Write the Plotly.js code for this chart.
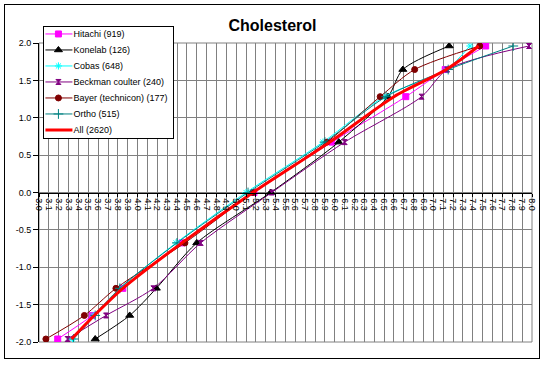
<!DOCTYPE html>
<html><head><meta charset="utf-8">
<script src="https://cdn.plot.ly/plotly-3.0.1.min.js"></script>
<style>
html,body{margin:0;padding:0;background:#fff;}
#chart{width:545px;height:366px;position:absolute;left:0;top:0;}
#frame{position:absolute;left:4px;top:4px;width:536px;height:355px;border:1px solid #000;box-sizing:border-box;pointer-events:none;}
</style>
</head><body>
<div id="chart"></div><div id="frame"></div>
<script>
// z-scores (percentiles 2.5,5,10,25,50,75,90,95,97.5)
const zScores = [-1.96, -1.645, -1.282, -0.674, 0, 0.674, 1.282, 1.645, 1.96];

const seriesNames = ["Hitachi (919)", "Konelab (126)", "Cobas (648)", "Beckman coulter (240)",
  "Bayer (technicon) (177)", "Ortho (515)", "All (2620)"];

const hitachi = [3.19, 3.54, 3.85, 4.45, 5.18, 5.97, 6.72, 7.12, 7.53];
const konelab = [3.57, 3.92, 4.19, 4.60, 5.35, 6.04, 6.54, 6.69, 7.16];
const cobas   = [3.34, 3.55, 3.82, 4.39, 5.10, 5.88, 6.50, 7.13, 7.37];
const beckman = [3.29, 3.68, 4.16, 4.64, 5.36, 6.10, 6.88, 7.14, 7.97];
const bayer   = [3.07, 3.46, 3.78, 4.48, 5.17, 5.92, 6.46, 6.81, 7.47];
const ortho   = [3.35, 3.57, 3.82, 4.40, 5.12, 5.90, 6.52, 7.15, 7.81];
const all     = [3.33, 3.56, 3.85, 4.45, 5.17, 5.95, 6.60, 7.13, 7.46];

const yTickVals = [-2, -1.5, -1, -0.5, 0, 0.5, 1, 1.5, 2];
const yTickText = ["-2.0", "-1.5", "-1.0", "-0.5", "0.0", "0.5", "1.0", "1.5", "2.0"];

const FONT = "Arial, 'Liberation Sans', sans-serif";

function tr(x, name, color, symbol, size, width) {
  const t = {
    x: x, y: zScores, name: name, type: 'scatter',
    mode: symbol ? 'lines+markers' : 'lines',
    line: {color: color, width: width || 1, shape: 'spline', smoothing: 0.8},
    hoverinfo: 'skip'
  };
  if (symbol) t.marker = {symbol: symbol, size: size, color: color, line: {color: color, width: 1}};
  return t;
}

const data = [
  tr(hitachi, seriesNames[0], '#FF00FF', 'square', 6),
  tr(konelab, seriesNames[1], '#000000', 'triangle-up', 7),
  tr(cobas,   seriesNames[2], '#00FFFF', 'asterisk-open', 6),
  tr(beckman, seriesNames[3], '#800080', 'hourglass', 5),
  tr(bayer,   seriesNames[4], '#800000', 'circle', 6),
  tr(ortho,   seriesNames[5], '#008080', 'cross-thin-open', 7),
  tr(all,     seriesNames[6], '#FF0000', null, 0, 3)
];

const layout = {
  width: 545, height: 366,
  margin: {l: 39, r: 13, t: 43, b: 24, pad: 0},
  paper_bgcolor: '#ffffff', plot_bgcolor: '#ffffff',
  font: {family: FONT, size: 9, color: '#000'},
  title: {text: 'Cholesterol', font: {family: FONT, size: 16, color: '#000', weight: 'bold'},
          x: 0.5, xref: 'container', y: 0.93, yref: 'container', yanchor: 'middle'},
  showlegend: true,
  legend: {x: 0.009, y: 1.057, xanchor: 'left', yanchor: 'top',
           bgcolor: '#fff', bordercolor: '#000', borderwidth: 1,
           font: {family: FONT, size: 9, color: '#000'}, itemwidth: 30, tracegroupgap: 0},
  xaxis: {
    range: [3, 8], tick0: 3, dtick: 0.1, tickformat: '.1f', tickangle: 90,
    anchor: 'free', position: 0.5,
    showgrid: true, gridcolor: '#808080', gridwidth: 1,
    showline: true, linecolor: '#000', linewidth: 1,
    ticks: 'outside', ticklen: 3, tickcolor: '#000',
    zeroline: false, automargin: false,
    tickfont: {family: FONT, size: 9, color: '#000'}
  },
  yaxis: {
    range: [-2, 2], tickvals: yTickVals, ticktext: yTickText,
    showgrid: true, gridcolor: '#808080', gridwidth: 1,
    showline: true, linecolor: '#000', linewidth: 1,
    ticks: 'outside', ticklen: 5, tickcolor: '#000',
    zeroline: false, automargin: false,
    tickfont: {family: FONT, size: 9, color: '#000'}
  },
  shapes: [{type: 'rect', xref: 'paper', yref: 'paper', x0: 0, x1: 1, y0: 0, y1: 1,
            line: {color: '#808080', width: 1}, layer: 'below'}]
};

Plotly.newPlot('chart', data, layout, {staticPlot: true, displayModeBar: false}).then(gd => {
  // compact the legend like the original: 16px rows, short samples, text closer
  const items = gd.querySelectorAll('.legend .traces');
  const step = 16, firstY = 8, shiftX = 11;
  items.forEach((el, i) => {
    el.setAttribute('transform', 'translate(1,' + (firstY + i * step) + ')');
    el.querySelectorAll('.legendlines path').forEach(p => p.setAttribute('d', 'M1,0h27'));
    el.querySelectorAll('.legendpoints path.scatterpts').forEach(p => p.setAttribute('transform', 'translate(14,0)'));
    el.querySelectorAll('text.legendtext').forEach(t => {
      const x = parseFloat(t.getAttribute('x')) || 40;
      t.setAttribute('x', x - shiftX);
      t.querySelectorAll('tspan').forEach(ts => {
        if (ts.getAttribute('x') !== null) ts.setAttribute('x', parseFloat(ts.getAttribute('x')) - shiftX);
      });
    });
  });
  const bg = gd.querySelector('.legend .bg');
  if (bg) {
    const w = parseFloat(bg.getAttribute('width'));
    bg.setAttribute('width', w - shiftX);
    bg.setAttribute('height', firstY + (items.length - 1) * step + 8);
  }
});
</script>
</body></html>
